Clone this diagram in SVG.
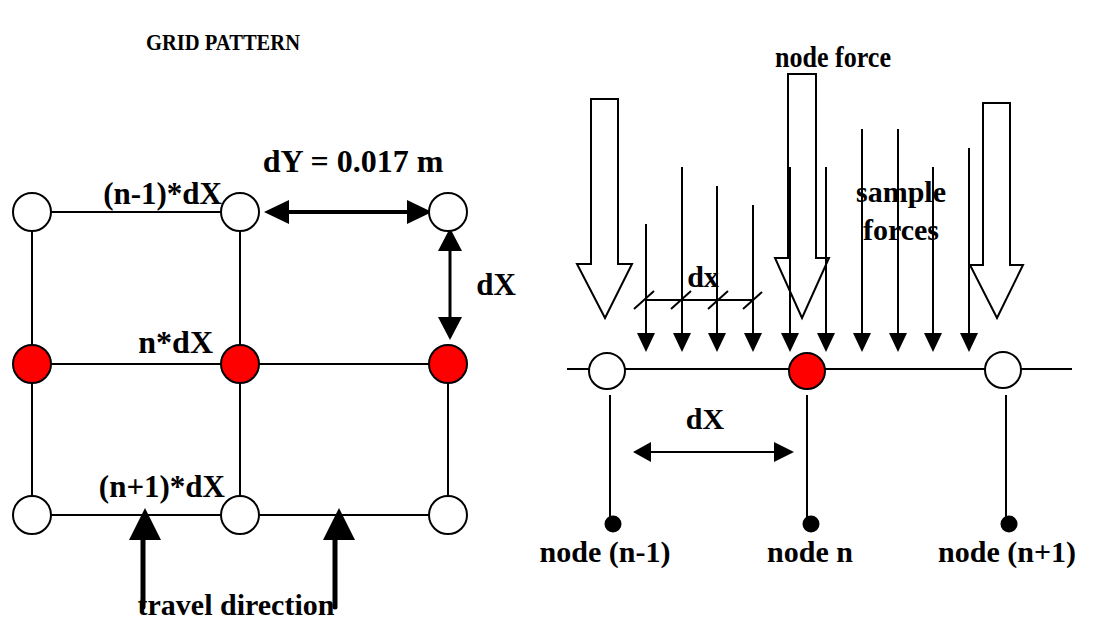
<svg xmlns="http://www.w3.org/2000/svg" width="1111" height="626" viewBox="0 0 1111 626">
<style>
.t{font-family:"Liberation Serif","Times New Roman",serif;font-weight:bold;fill:#000}
.ln{stroke:#000;stroke-width:2;fill:none}
.nw{fill:#fff;stroke:#000;stroke-width:2}
.nr{fill:#ff0000;stroke:#000;stroke-width:2}
.big{fill:#fff;stroke:#000;stroke-width:2;stroke-linejoin:miter}
.sf{stroke:#000;stroke-width:2}
.hd{fill:#000}
</style>
<rect width="1111" height="626" fill="#fff"/>
<text class="t" x="146" y="50" font-size="24" textLength="154" lengthAdjust="spacingAndGlyphs">GRID PATTERN</text>

<!-- left grid connectors -->
<g id="connectors-left">
<line class="ln" x1="32" y1="212" x2="240" y2="212"/>
<line class="ln" x1="32" y1="364" x2="448" y2="364"/>
<line class="ln" x1="32" y1="515" x2="448" y2="515"/>
<line class="ln" x1="32" y1="212" x2="32" y2="515"/>
<line class="ln" x1="240" y1="212" x2="240" y2="515"/>
<line class="ln" x1="448" y1="364" x2="448" y2="515"/>
<!-- dY arrow -->
<line x1="286" y1="212" x2="410" y2="212" stroke="#000" stroke-width="4"/>
<polygon class="hd" points="264,212 289,200 289,224"/>
<polygon class="hd" points="432,212 407,200 407,224"/>
<!-- dX vertical arrow -->
<line x1="450" y1="248" x2="450" y2="319" stroke="#000" stroke-width="3"/>
<polygon class="hd" points="450,228 438,251 462,251"/>
<polygon class="hd" points="450,340 438,317 462,317"/>
<!-- travel direction arrows -->
<line x1="143" y1="538" x2="143" y2="607" stroke="#000" stroke-width="5" stroke-linecap="round"/>
<polygon class="hd" points="145,508 129,540 161,540"/>
<line x1="335" y1="538" x2="335" y2="607" stroke="#000" stroke-width="5" stroke-linecap="round"/>
<polygon class="hd" points="339,508 323,540 355,540"/>
</g>

<g id="grid-nodes">
<circle id="g11" class="nw" cx="32" cy="212" r="19"/>
<circle id="g12" class="nw" cx="240" cy="212" r="19"/>
<circle id="g13" class="nw" cx="448" cy="212" r="19"/>
<circle id="g21" class="nr" cx="32" cy="364" r="19"/>
<circle id="g22" class="nr" cx="240" cy="364" r="19"/>
<circle id="g23" class="nr" cx="448" cy="364" r="19"/>
<circle id="g31" class="nw" cx="32" cy="515" r="19"/>
<circle id="g32" class="nw" cx="240" cy="515" r="19"/>
<circle id="g33" class="nw" cx="448" cy="515" r="19"/>
</g>

<g id="left-labels">
<text class="t" x="353" y="172" font-size="32" text-anchor="middle">dY = 0.017 m</text>
<text class="t" x="222" y="204" font-size="31" text-anchor="end">(n-1)*dX</text>
<text class="t" x="213" y="353" font-size="32" text-anchor="end">n*dX</text>
<text class="t" x="225" y="497" font-size="31" text-anchor="end">(n+1)*dX</text>
<text class="t" x="496" y="295" font-size="31" text-anchor="middle">dX</text>
<text class="t" x="236" y="615" font-size="30" text-anchor="middle">travel direction</text>
</g>

<!-- right side -->
<g id="node-force-arrows">
<polygon class="big" points="591,99 618,99 618,264 632,264 605,318 577,264 591,264"/>
<polygon class="big" points="788,74 816,74 816,258 829,258 802,318 775,258 788,258"/>
<polygon class="big" points="983,103 1010,103 1010,265 1023,265 997,318 970,265 983,265"/>
</g>

<g id="connectors-right">
<line class="ln" x1="567" y1="369" x2="1072" y2="369"/>
<line class="ln" x1="610" y1="395" x2="610" y2="522"/>
<line class="ln" x1="807" y1="395" x2="807" y2="522"/>
<line class="ln" x1="1006" y1="395" x2="1006" y2="522"/>
<g id="sample-forces">
<line class="sf" x1="646" y1="224" x2="646" y2="336"/>
<line class="sf" x1="682" y1="167" x2="682" y2="336"/>
<line class="sf" x1="717" y1="186" x2="717" y2="336"/>
<line class="sf" x1="753" y1="205" x2="753" y2="336"/>
<line class="sf" x1="790" y1="167" x2="790" y2="336"/>
<line class="sf" x1="826" y1="167" x2="826" y2="336"/>
<line class="sf" x1="862" y1="129" x2="862" y2="336"/>
<line class="sf" x1="898" y1="129" x2="898" y2="336"/>
<line class="sf" x1="933" y1="167" x2="933" y2="336"/>
<line class="sf" x1="969" y1="148" x2="969" y2="336"/>
<polygon class="hd" points="646,352 637,333 655,333"/>
<polygon class="hd" points="682,352 673,333 691,333"/>
<polygon class="hd" points="717,352 708,333 726,333"/>
<polygon class="hd" points="753,352 744,333 762,333"/>
<polygon class="hd" points="790,352 781,333 799,333"/>
<polygon class="hd" points="826,352 817,333 835,333"/>
<polygon class="hd" points="862,352 853,333 871,333"/>
<polygon class="hd" points="898,352 889,333 907,333"/>
<polygon class="hd" points="933,352 924,333 942,333"/>
<polygon class="hd" points="969,352 960,333 978,333"/>
</g>
<line class="ln" x1="645" y1="300" x2="753" y2="300"/>
<line class="ln" x1="634" y1="309" x2="654" y2="291"/>
<line class="ln" x1="671" y1="309" x2="691" y2="291"/>
<line class="ln" x1="708" y1="309" x2="728" y2="291"/>
<line class="ln" x1="743" y1="309" x2="762" y2="292"/>
<line class="ln" x1="648" y1="452" x2="776" y2="452"/>
<polygon class="hd" points="633,452 651,442 651,462"/>
<polygon class="hd" points="794,452 774,442 774,462"/>
</g>

<g id="beam-nodes">
<circle id="n-prev" class="nw" cx="607" cy="371" r="18"/>
<circle id="n-cur" class="nr" cx="807" cy="371" r="18"/>
<circle id="n-next" class="nw" cx="1003" cy="370" r="18"/>
<circle id="d-prev" class="hd" cx="613" cy="524" r="8.5"/>
<circle id="d-cur" class="hd" cx="811" cy="524" r="8.5"/>
<circle id="d-next" class="hd" cx="1009" cy="524" r="8.5"/>
</g>

<g id="right-labels">
<text class="t" x="775" y="67" font-size="29" textLength="116" lengthAdjust="spacingAndGlyphs">node force</text>
<text class="t" x="901" y="202" font-size="30" text-anchor="middle">sample</text>
<text class="t" x="901" y="240" font-size="30" text-anchor="middle">forces</text>
<text class="t" x="703" y="287" font-size="30" text-anchor="middle">dx</text>
<text class="t" x="705" y="429" font-size="30" text-anchor="middle">dX</text>
<text class="t" x="605" y="562" font-size="30" text-anchor="middle">node (n-1)</text>
<text class="t" x="810" y="562" font-size="30" text-anchor="middle">node n</text>
<text class="t" x="1007" y="562" font-size="30" text-anchor="middle">node (n+1)</text>
</g>
</svg>
